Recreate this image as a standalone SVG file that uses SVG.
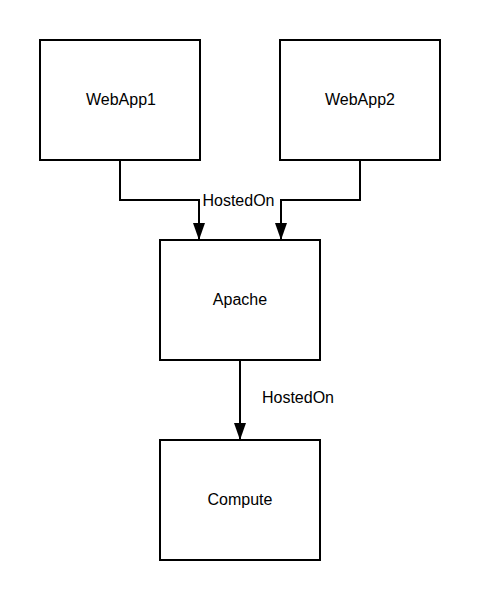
<svg xmlns="http://www.w3.org/2000/svg" width="480" height="600" viewBox="0 0 480 600">
<style>
.node{fill:#ffffff;stroke:#000000;stroke-width:2}
.lbl{font-family:"Liberation Sans",Arial,sans-serif;font-size:16px;fill:#000000;text-anchor:middle}
.edge{fill:none;stroke:#000000;stroke-width:2}
</style>
<defs>
<marker id="arr" viewBox="0 0 17 12" refX="17" refY="6" markerWidth="17" markerHeight="12" markerUnits="userSpaceOnUse" orient="auto">
<path d="M0,0 L17,6 L0,12 Z" fill="#000000"/>
</marker>
</defs>
<rect width="480" height="600" fill="#ffffff"/>
<g id="connectors">
<path class="edge" d="M120,160 V200 H199 V240" marker-end="url(#arr)"/>
<path class="edge" d="M360,160 V200 H281 V240" marker-end="url(#arr)"/>
<path class="edge" d="M240,360 V440" marker-end="url(#arr)"/>
<rect x="201" y="190" width="78" height="18" fill="#ffffff"/>
<text class="lbl" x="238.5" y="205.5">HostedOn</text>
<text class="lbl" x="298" y="402.5">HostedOn</text>
</g>
<g id="webapp1">
<rect class="node" x="40" y="40" width="160" height="120"/>
<text class="lbl" x="121" y="104.5">WebApp1</text>
</g>
<g id="webapp2">
<rect class="node" x="280" y="40" width="160" height="120"/>
<text class="lbl" x="360" y="104.5">WebApp2</text>
</g>
<g id="apache">
<rect class="node" x="160" y="240" width="160" height="120"/>
<text class="lbl" x="240" y="304.5">Apache</text>
</g>
<g id="compute">
<rect class="node" x="160" y="440" width="160" height="120"/>
<text class="lbl" x="240" y="504.5">Compute</text>
</g>
</svg>
